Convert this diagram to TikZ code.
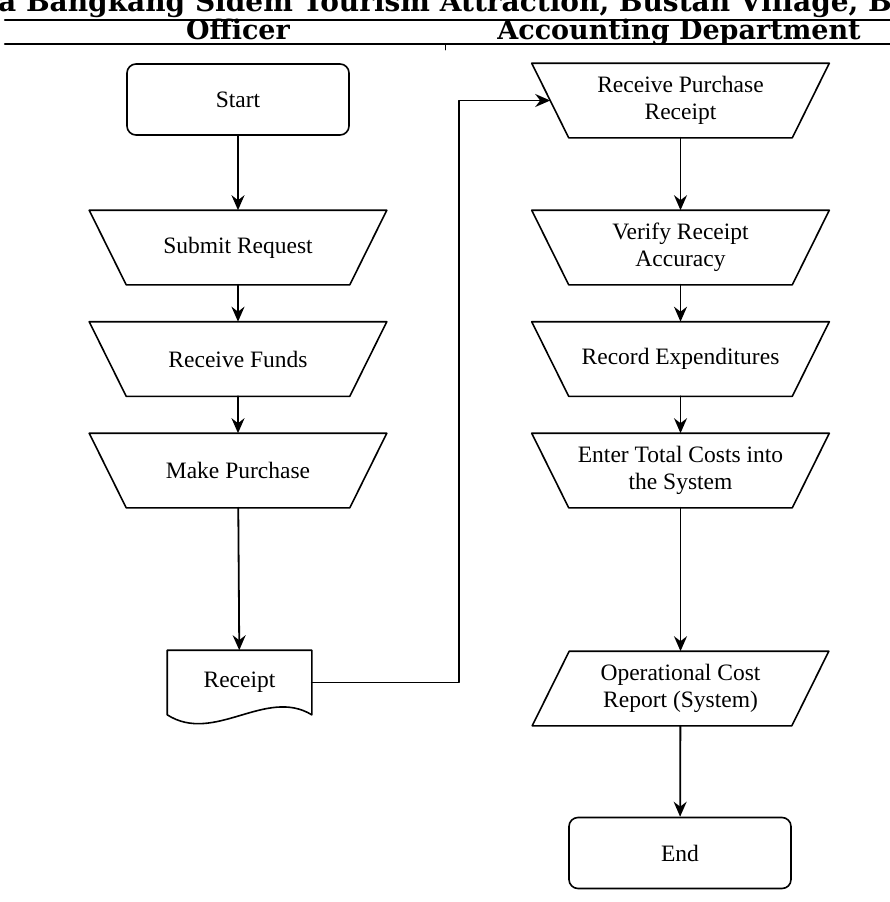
\documentclass[tikz,border=0pt]{standalone}
\usepackage{fontspec}
\setmainfont{Liberation Serif}
\newfontfamily\headfont{DejaVu Serif}
\usetikzlibrary{arrows.meta}
\tikzset{
  box/.style={line width=1.6pt,align=center,font=\fontsize{23.5}{27}\selectfont},
  term/.style={box,draw,rectangle,rounded corners=9pt,minimum width=222pt,minimum height=71pt},
  flat/.style={box,rectangle,minimum width=296pt,minimum height=73pt},
  outline/.style={line width=1.6pt},
  flow/.style={line width=1.8pt,-{Stealth[length=15pt,width=13pt,inset=5pt]}},
  lane/.style={font=\headfont\bfseries\fontsize{27}{30}\selectfont,anchor=base},
}
% manual operation (wide top) and data (slanted) outlines round a flat node
\newcommand{\manop}[1]{\draw[outline] (#1.north west) -- (#1.north east)
  -- ([xshift=-37pt]#1.south east) -- ([xshift=37pt]#1.south west) -- cycle;}
\newcommand{\dataio}[1]{\draw[outline] ([xshift=37pt]#1.north west) -- (#1.north east)
  -- ([xshift=-37pt]#1.south east) -- (#1.south west) -- cycle;}
\begin{document}
\begin{tikzpicture}[x=1pt,y=-1pt,line cap=round,line join=round]
  \useasboundingbox (0,0) rectangle (890,902);
  % header
  \node[lane,font=\headfont\bfseries\fontsize{28}{30}\selectfont] (title) at (445,12)
    {a Bangkang Sidem Tourism Attraction, Bustan Village, B};
  \draw[line width=2.2pt] (5,20) -- (890,20);
  \draw[line width=2.2pt] (5,44) -- (890,44);
  \draw[line width=0.8pt] (445,44) -- (445,50);
  \node[lane] (officer) at (238,39) {Officer};
  \node[lane] (accdept) at (679,39) {Accounting Department};
  % officer lane
  \node[term] (start) at (238,99.5) {Start};
  \node[flat] (submit) at (238,247.5) {Submit Request};
  \node[flat] (funds) at (238,359) {Receive Funds};
  \node[flat] (purchase) at (238,470.5) {Make Purchase};
  \manop{submit} \manop{funds} \manop{purchase}
  \node[box,minimum width=143pt,minimum height=63pt] (receipt) at (239.5,682.5) {Receipt};
  \draw[outline] (receipt.south east) -- (receipt.north east) -- (receipt.north west) -- (receipt.south west)
    .. controls +(47,30) and +(-46,-28) .. (receipt.south east);
  % accounting lane
  \node[flat] (recv) at (680.5,100.5) {Receive Purchase\\Receipt};
  \node[flat] (verify) at (680.5,247.5) {Verify Receipt\\Accuracy};
  \node[flat] (record) at (680.5,359) {Record Expenditures};
  \node[flat] (enter) at (680.5,470.5) {Enter Total Costs into\\the System};
  \manop{recv} \manop{verify} \manop{record} \manop{enter}
  \node[flat,minimum width=295pt] (report) at (680.5,688.5) {Operational Cost\\Report (System)};
  \dataio{report}
  \node[term] (stop) at (680,853) {End};
  % connectors
  \coordinate (joint) at (459,0);
  \draw[flow] (start) -- (submit);
  \draw[flow] (submit) -- (funds);
  \draw[flow] (funds) -- (purchase);
  \draw[flow] (purchase) -- (receipt);
  \draw[flow] (receipt.east) -- (receipt.east -| joint) |- ([xshift=18.5pt]recv.west);
  \draw[flow] (recv) -- (verify);
  \draw[flow] (verify) -- (record);
  \draw[flow] (record) -- (enter);
  \draw[flow] (enter) -- (report);
  \draw[flow] (report) -- (stop);
\end{tikzpicture}
\end{document}
